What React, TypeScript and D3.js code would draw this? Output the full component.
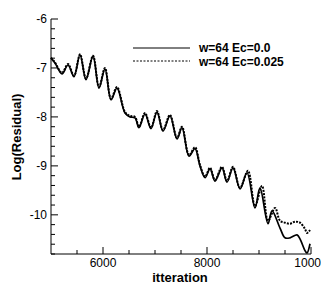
import * as d3 from 'd3';

// iteration / log residual
const solidIter = [5000, 5077, 5212, 5327, 5442, 5558, 5673, 5808, 5923, 6038, 6154, 6269, 6423, 6519, 6615, 6692, 6808, 6923, 7038, 7154, 7288, 7423, 7519, 7654, 7769, 7865, 7962, 8058, 8154, 8288, 8385, 8500, 8635, 8769, 8923, 9019, 9173, 9250, 9404, 9500, 9596, 9731, 9788, 9885, 9923, 9981];
const solidRes = [-6.8, -6.9, -7.12, -6.94, -7.18, -6.73, -7.24, -6.76, -7.41, -7.02, -7.65, -7.41, -7.92, -8.0, -8.02, -8.22, -7.94, -8.24, -7.9, -8.29, -7.98, -8.45, -8.22, -8.8, -8.65, -9.0, -9.24, -9.06, -9.31, -9.04, -9.33, -9.04, -9.47, -9.14, -9.86, -9.45, -10.18, -9.92, -10.27, -10.47, -10.47, -10.41, -10.49, -10.73, -10.78, -10.59];

const dashIter = [5000, 5077, 5212, 5327, 5442, 5558, 5673, 5808, 5923, 6038, 6154, 6269, 6423, 6519, 6615, 6692, 6808, 6923, 7038, 7154, 7288, 7423, 7519, 7654, 7769, 7865, 7962, 8058, 8154, 8288, 8385, 8500, 8635, 8788, 8923, 9058, 9173, 9308, 9404, 9500, 9596, 9692, 9788, 9885, 9923, 9981];
const dashRes = [-6.79, -6.89, -7.1, -6.92, -7.16, -6.72, -7.22, -6.75, -7.39, -7.0, -7.63, -7.39, -7.9, -7.98, -8.0, -8.2, -7.92, -8.22, -7.88, -8.27, -7.96, -8.43, -8.2, -8.78, -8.62, -8.98, -9.22, -9.04, -9.29, -9.02, -9.31, -9.02, -9.45, -9.1, -9.82, -9.41, -10.12, -9.86, -10.12, -10.16, -10.18, -10.14, -10.16, -10.29, -10.37, -10.31];

const xTicks = [6000, 8000, 10000];
const yTicks = [-6, -7, -8, -9, -10];
const legendLabels = ['w=64 Ec=0.0', 'w=64 Ec=0.025'];

const W = 321;
const H = 285;

export default function App() {
  const x = d3.scaleLinear().domain([5000, 10000]).range([51, 311]);
  const y = d3.scaleLinear().domain([-10.8, -6]).range([254, 19]);

  const line = d3.line<[number, number]>()
    .x(d => x(d[0]))
    .y(d => y(d[1]))
    .curve(d3.curveCatmullRom.alpha(0.5));

  const solid = line(solidIter.map((t, i) => [t, solidRes[i]]));
  const dashed = line(dashIter.map((t, i) => [t, dashRes[i]]));

  const xMinor = d3.range(5500, 10001, 500).filter(v => !xTicks.includes(v));
  const yMinor = d3.range(0, 24).map(i => -10.8 + i * 0.2).filter(v => !yTicks.some(t => Math.abs(t - v) < 1e-6));

  const font = 'Liberation Sans, Arial, Helvetica, sans-serif';

  return (
    <svg width={W} height={H} style={{ position: 'absolute', left: 0, top: 0, background: '#fff' }} fontFamily={font}>
      {/* axes */}
      <line x1={51} x2={51} y1={y(-6)} y2={254} stroke="#000" strokeWidth={1} />
      <line x1={51} x2={311} y1={254} y2={254} stroke="#000" strokeWidth={1} />

      {yTicks.map(t => (
        <g key={t}>
          <line x1={51} x2={58} y1={y(t)} y2={y(t)} stroke="#000" />
          <text x={47} y={y(t) + 4} fontSize={12} textAnchor="end">{t}</text>
        </g>
      ))}
      {yMinor.map((t, i) => (
        <line key={i} x1={51} x2={55} y1={y(t)} y2={y(t)} stroke="#000" />
      ))}

      {xTicks.map(t => (
        <g key={t}>
          <line x1={x(t)} x2={x(t)} y1={254} y2={247} stroke="#000" />
          <text x={x(t)} y={267} fontSize={12} textAnchor="middle">{t}</text>
        </g>
      ))}
      {xMinor.map(t => (
        <line key={t} x1={x(t)} x2={x(t)} y1={254} y2={250} stroke="#000" />
      ))}

      <path d={solid ?? ''} fill="none" stroke="#000" strokeWidth={1.7} />
      <path d={dashed ?? ''} fill="none" stroke="#000" strokeWidth={2} strokeDasharray="2,1.2" />

      {/* legend */}
      <line x1={133} x2={190} y1={48} y2={48} stroke="#000" strokeWidth={1} />
      <line x1={133} x2={190} y1={61} y2={61} stroke="#000" strokeWidth={1} strokeDasharray="2,1.5" />
      {legendLabels.map((l, i) => (
        <text key={l} x={199} y={52 + i * 14} fontSize={12} fontWeight="bold">{l}</text>
      ))}

      <text x={180} y={282} fontSize={13} fontWeight="bold" textAnchor="middle">itteration</text>
      <text transform="translate(21,137) rotate(-90)" fontSize={13} fontWeight="bold" textAnchor="middle">Log(Residual)</text>
    </svg>
  );
}
